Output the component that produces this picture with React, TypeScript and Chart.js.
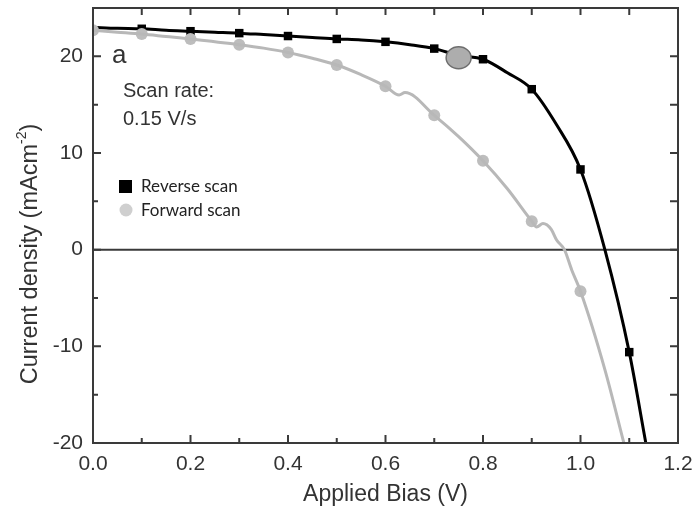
import React, { useEffect, useRef } from "react";
import { Chart, registerables } from "chart.js";

Chart.register(...registerables);

// Reverse scan (black) – continuous curve
const reverseLineBias = [0, 0.05, 0.1, 0.15, 0.2, 0.25, 0.3, 0.35, 0.4, 0.45, 0.5, 0.55, 0.6, 0.65, 0.7, 0.75, 0.8, 0.85, 0.9, 0.95, 1.0, 1.05, 1.1, 1.134];
const reverseLineJ = [23.0, 22.9, 22.85, 22.7, 22.6, 22.5, 22.4, 22.25, 22.1, 21.95, 21.8, 21.7, 21.5, 21.2, 20.8, 20.1, 19.7, 18.3, 16.6, 13.0, 8.3, 0.0, -10.6, -20];
// Reverse scan markers
const reverseMarkBias = [0.1, 0.2, 0.3, 0.4, 0.5, 0.6, 0.7, 0.8, 0.9, 1.0, 1.1];
const reverseMarkJ = [22.85, 22.6, 22.4, 22.1, 21.8, 21.5, 20.8, 19.7, 16.6, 8.3, -10.6];

// Forward scan (grey) – continuous curve
const forwardLineBias = [0, 0.05, 0.1, 0.15, 0.2, 0.25, 0.3, 0.35, 0.4, 0.45, 0.5, 0.55, 0.6, 0.628, 0.64, 0.7, 0.75, 0.8, 0.85, 0.9, 0.91, 0.923, 0.94, 0.951, 0.967, 0.982, 1.0, 1.05, 1.089];
const forwardLineJ = [22.7, 22.5, 22.3, 22.05, 21.8, 21.5, 21.2, 20.85, 20.4, 19.8, 19.1, 18.1, 16.9, 16.0, 16.25, 13.9, 11.7, 9.2, 6.3, 2.95, 2.35, 2.7, 2.1, 1.0, 0.0, -2.1, -4.3, -12.4, -20];
// Forward scan markers
const forwardMarkBias = [0, 0.1, 0.2, 0.3, 0.4, 0.5, 0.6, 0.7, 0.8, 0.9, 1.0];
const forwardMarkJ = [22.7, 22.3, 21.8, 21.2, 20.4, 19.1, 16.9, 13.9, 9.2, 2.95, -4.3];

// Maximum power point marker
const mppBias = [0.75];
const mppJ = [19.85];

const xTicks = [0, 0.2, 0.4, 0.6, 0.8, 1.0, 1.2];
const yTicks = [-20, -10, 0, 10, 20];

const seriesNames = ["Reverse scan", "Forward scan"];

const toPts = (xs: number[], ys: number[]) => xs.map((x, i) => ({ x, y: ys[i] }));

const FONT = "'Liberation Sans', Arial, sans-serif";

const decorPlugin = {
  id: "decor",
  beforeDatasetsDraw(chart: any) {
    const { ctx, chartArea, scales } = chart;
    const y0 = scales.y.getPixelForValue(0);
    ctx.save();
    ctx.strokeStyle = "#3a3a3a";
    ctx.lineWidth = 2;
    ctx.beginPath();
    ctx.moveTo(chartArea.left, y0);
    ctx.lineTo(chartArea.right, y0);
    ctx.stroke();
    ctx.restore();
  },
  afterDatasetsDraw(chart: any) {
    const { ctx, chartArea, scales } = chart;
    const { left, right, top, bottom } = chartArea;
    // MPP ellipse
    ctx.save();
    mppBias.forEach((b, i) => {
      const px = scales.x.getPixelForValue(b);
      const py = scales.y.getPixelForValue(mppJ[i]);
      ctx.beginPath();
      ctx.ellipse(px, py, 12.5, 11, 0, 0, Math.PI * 2);
      ctx.fillStyle = "#adadad";
      ctx.fill();
      ctx.lineWidth = 1.5;
      ctx.strokeStyle = "#6e6e6e";
      ctx.stroke();
    });
    ctx.restore();

    ctx.save();
    ctx.strokeStyle = "#3a3a3a";
    ctx.lineWidth = 2;
    ctx.strokeRect(left, top, right - left, bottom - top);
    ctx.beginPath();
    // x ticks (every 0.1)
    for (let i = 0; i <= 12; i++) {
      const v = i / 10;
      const px = scales.x.getPixelForValue(v);
      const major = i % 2 === 0;
      ctx.moveTo(px, bottom);
      ctx.lineTo(px, bottom - (major ? 8 : 5));
      ctx.moveTo(px, top);
      ctx.lineTo(px, top + 7);
    }
    // y ticks (every 5)
    for (let v = -20; v <= 25; v += 5) {
      const py = scales.y.getPixelForValue(v);
      const major = v % 10 === 0;
      ctx.moveTo(left, py);
      ctx.lineTo(left + (major ? 8 : 5), py);
      ctx.moveTo(right, py);
      ctx.lineTo(right - 8, py);
    }
    ctx.stroke();
    ctx.restore();
  },
  afterDraw(chart: any) {
    const { ctx } = chart;
    ctx.save();
    // y axis title with superscript
    const main = "Current density (mAcm";
    const sup = "-2";
    const end = ")";
    const big = 23.5;
    ctx.font = `${big}px ${FONT}`;
    const wMain = ctx.measureText(main).width;
    const wEnd = ctx.measureText(end).width;
    ctx.font = `14px ${FONT}`;
    const wSup = ctx.measureText(sup).width;
    const total = wMain + wSup + wEnd;
    ctx.translate(31, 254);
    ctx.rotate(-Math.PI / 2);
    ctx.fillStyle = "#333";
    ctx.textBaseline = "middle";
    ctx.textAlign = "left";
    let x = -total / 2;
    ctx.font = `${big}px ${FONT}`;
    ctx.fillText(main, x, 0);
    x += wMain;
    ctx.font = `14px ${FONT}`;
    ctx.fillText(sup, x, -9);
    x += wSup;
    ctx.font = `${big}px ${FONT}`;
    ctx.fillText(end, x, 0);
    ctx.restore();

    ctx.save();
    ctx.fillStyle = "#333";
    ctx.textBaseline = "middle";
    ctx.textAlign = "left";
    ctx.font = `26px ${FONT}`;
    ctx.fillText("a", 112, 56);
    ctx.font = `20px ${FONT}`;
    ctx.fillText("Scan rate:", 123, 91);
    ctx.fillText("0.15 V/s", 123, 119);

    // legend
    ctx.fillStyle = "#000";
    ctx.fillRect(119, 180, 13, 13);
    ctx.fillStyle = "#cfcfcf";
    ctx.beginPath();
    ctx.arc(126, 210, 6.5, 0, Math.PI * 2);
    ctx.fill();
    ctx.fillStyle = "#222";
    ctx.font = `17px Lato, 'Open Sans', sans-serif`;
    ctx.fillText(seriesNames[0], 141, 187);
    ctx.fillText(seriesNames[1], 141, 211);
    ctx.restore();
  },
};

export default function App() {
  const ref = useRef<HTMLCanvasElement>(null);
  useEffect(() => {
    if (!ref.current) return;
    const chart = new Chart(ref.current, {
      type: "scatter",
      data: {
        datasets: [
          {
            label: seriesNames[1] + " line",
            data: toPts(forwardLineBias, forwardLineJ),
            showLine: true,
            borderColor: "#b8b8b8",
            borderWidth: 3,
            pointRadius: 0,
            cubicInterpolationMode: "monotone",
          },
          {
            label: seriesNames[1],
            data: toPts(forwardMarkBias, forwardMarkJ),
            showLine: false,
            pointStyle: "circle",
            pointRadius: 6,
            backgroundColor: "#bdbdbd",
            borderWidth: 0,
          },
          {
            label: seriesNames[0] + " line",
            data: toPts(reverseLineBias, reverseLineJ),
            showLine: true,
            borderColor: "#000",
            borderWidth: 3,
            pointRadius: 0,
            cubicInterpolationMode: "monotone",
          },
          {
            label: seriesNames[0],
            data: toPts(reverseMarkBias, reverseMarkJ),
            showLine: false,
            pointStyle: "rect",
            pointRadius: 6,
            backgroundColor: "#000",
            borderWidth: 0,
          },
        ],
      },
      options: {
        responsive: false,
        animation: false,
        layout: { padding: { left: 0, top: 8, right: 19, bottom: 0 } },
        plugins: {
          legend: { display: false },
          tooltip: { enabled: false },
        },
        scales: {
          x: {
            type: "linear",
            min: 0,
            max: 1.2,
            grid: { display: false, drawTicks: false },
            border: { display: false },
            afterBuildTicks: (s: any) => {
              s.ticks = xTicks.map((v) => ({ value: v }));
            },
            afterFit: (s: any) => {
              s.height = 69;
              s.paddingLeft = 0;
              s.paddingRight = 0;
            },
            ticks: {
              padding: 9,
              color: "#333",
              font: { size: 21, family: FONT },
              callback: (v: any) => Number(v).toFixed(1),
              maxRotation: 0,
            },
            title: {
              display: true,
              text: "Applied Bias (V)",
              color: "#333",
              font: { size: 23, family: FONT },
              padding: { top: 0, bottom: 4 },
            },
          },
          y: {
            type: "linear",
            min: -20,
            max: 25,
            grid: { display: false, drawTicks: false },
            border: { display: false },
            afterBuildTicks: (s: any) => {
              s.ticks = yTicks.map((v) => ({ value: v }));
            },
            afterFit: (s: any) => {
              s.width = 93;
              s.paddingTop = 0;
              s.paddingBottom = 0;
            },
            ticks: {
              padding: 10,
              color: "#333",
              font: { size: 21, family: FONT },
            },
          },
        },
      },
      plugins: [decorPlugin],
    });
    return () => chart.destroy();
  }, []);
  return (
    <canvas
      ref={ref}
      width={697}
      height={512}
      style={{ position: "absolute", left: 0, top: 0, background: "#fff" }}
    />
  );
}
